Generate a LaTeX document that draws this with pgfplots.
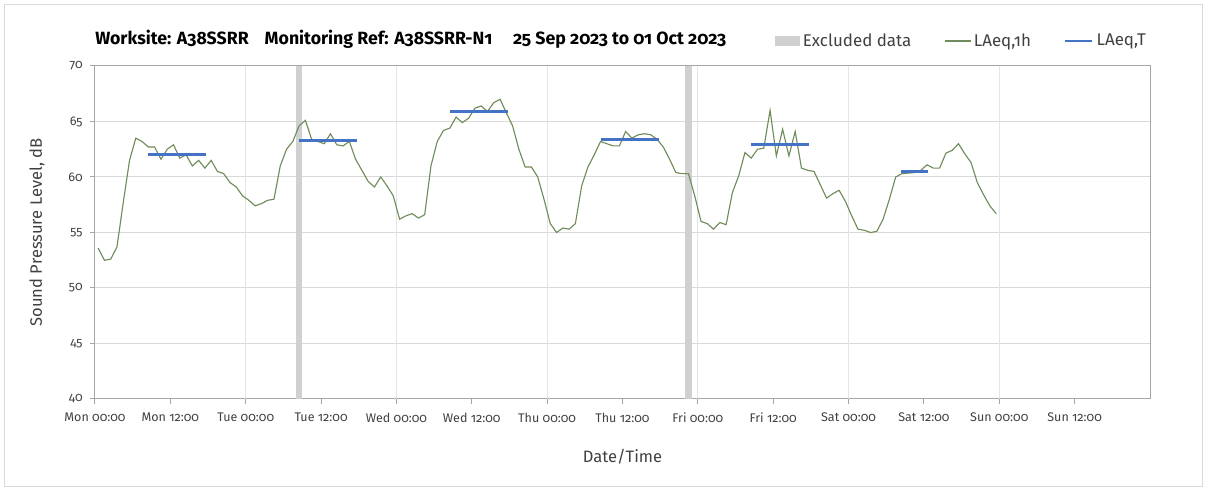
\documentclass[border=0pt]{standalone}
\usepackage{fontspec}
\setmainfont{Fira Sans}[Numbers=OldStyle]
\usepackage{pgfplots}
\usepackage{pgfplotstable}
\pgfplotsset{compat=1.18}

\definecolor{lgreen}{HTML}{6F8C5A}
\definecolor{lblue}{HTML}{4472C4}
\definecolor{exgray}{HTML}{D0D0D0}
\definecolor{gridc}{HTML}{D9D9D9}
\definecolor{vgridc}{HTML}{E4E4E4}
\definecolor{axc}{HTML}{A6A6A6}
\definecolor{txt}{HTML}{404040}

% hourly LAeq,1h, hours from Mon 00:00
\pgfplotstableread{
h spl
0.5 53.6
1.5 52.5
2.5 52.6
3.5 53.7
4.5 57.7
5.5 61.5
6.5 63.5
7.5 63.2
8.5 62.7
9.5 62.7
10.5 61.6
11.5 62.5
12.5 62.9
13.5 61.7
14.5 62.0
15.5 61.0
16.5 61.5
17.5 60.8
18.5 61.5
19.5 60.5
20.5 60.3
21.5 59.5
22.5 59.1
23.5 58.3
24.5 57.9
25.5 57.4
26.5 57.6
27.5 57.9
28.5 58.0
29.5 61.0
30.5 62.5
31.5 63.2
32.5 64.6
33.5 65.1
34.5 63.4
35.5 63.2
36.5 63.0
37.5 63.9
38.5 62.9
39.5 62.8
40.5 63.2
41.5 61.6
42.5 60.6
43.5 59.6
44.5 59.1
45.5 60.0
46.5 59.2
47.5 58.3
48.5 56.2
49.5 56.5
50.5 56.7
51.5 56.3
52.5 56.6
53.5 61.0
54.5 63.2
55.5 64.2
56.5 64.4
57.5 65.4
58.5 64.9
59.5 65.3
60.5 66.2
61.5 66.4
62.5 65.9
63.5 66.7
64.5 67.0
65.5 65.8
66.5 64.6
67.5 62.5
68.5 60.9
69.5 60.9
70.5 60.0
71.5 58.0
72.5 55.8
73.5 55.0
74.5 55.4
75.5 55.3
76.5 55.8
77.5 59.2
78.5 60.9
79.5 62.0
80.5 63.2
81.5 63.0
82.5 62.8
83.5 62.8
84.5 64.1
85.5 63.5
86.5 63.8
87.5 63.9
88.5 63.8
89.5 63.4
90.5 62.7
91.5 61.6
92.5 60.4
93.5 60.3
94.5 60.3
95.5 58.3
96.5 56.0
97.5 55.8
98.5 55.3
99.5 55.9
100.5 55.7
101.5 58.6
102.5 60.1
103.5 62.2
104.5 61.7
105.5 62.5
106.5 62.6
107.5 66.0
108.5 61.9
109.5 64.3
110.5 61.9
111.5 64.1
112.5 60.8
113.5 60.6
114.5 60.5
115.5 59.3
116.5 58.1
117.5 58.5
118.5 58.8
119.5 57.8
120.5 56.5
121.5 55.3
122.5 55.2
123.5 55.0
124.5 55.1
125.5 56.2
126.5 58.0
127.5 60.0
128.5 60.3
129.5 60.35
130.5 60.4
131.5 60.6
132.5 61.1
133.5 60.8
134.5 60.8
135.5 62.15
136.5 62.4
137.5 63.0
138.5 62.1
139.5 61.3
140.5 59.5
141.5 58.4
142.5 57.4
143.5 56.7
}\laeqh

\begin{document}
\begin{tikzpicture}
% 1 px of the reference = 0.75pt, axis corner at px (95,399)
\path[use as bounding box] (-71.25pt,-69.75pt) rectangle (834.75pt,299.25pt);
\draw[gridc, line width=0.75pt] (-67.5pt,-66pt) rectangle (830.25pt,295.5pt);
\begin{axis}[
  at={(0pt,0pt)}, anchor=south west, scale only axis,
  width=791.25pt, height=249.75pt,
  xmin=0, xmax=168, ymin=40, ymax=70,
  axis line style={draw=axc, line width=0.75pt},
  xtick={0,12,...,156},
  xticklabels={Mon 00:00,Mon 12:00,Tue 00:00,Tue 12:00,Wed 00:00,Wed 12:00,Thu 00:00,Thu 12:00,Fri 00:00,Fri 12:00,Sat 00:00,Sat 12:00,Sun 00:00,Sun 12:00},
  ytick={40,45,...,70},
  ymajorgrids, major grid style={draw=gridc, line width=0.75pt},
  extra x ticks={24,48,...,144}, extra x tick labels={},
  extra x tick style={grid=major, major grid style={draw=vgridc, line width=0.75pt}, major tick length=0pt},
  tick align=outside, xtick pos=bottom, ytick pos=left,
  major tick length=3.5pt, tick style={draw=axc, line width=0.75pt},
  /pgf/number format/assume math mode=true,
  xticklabel style={font=\fontsize{9.4}{11}\selectfont, text=txt, yshift=-3.5pt},
  yticklabel style={font=\fontsize{9.4}{11}\selectfont, text=txt, xshift=-2.25pt},
  xlabel={Date/Time}, ylabel={Sound Pressure Level, dB},
  label style={font=\fontsize{12.4}{14}\selectfont, text=txt},
  xlabel style={at={(axis description cs:0.5,-0.174)}, anchor=center},
  ylabel style={at={(axis description cs:-0.055,0.5)}, anchor=center},
  title={Worksite: A38SSRR\hspace{12pt}Monitoring Ref: A38SSRR-N1\hspace{15.5pt}25 Sep 2023 to 01 Oct 2023},
  title style={at={(axis description cs:0,1.040)}, anchor=base west, inner sep=0pt, font=\bfseries\fontsize{13.3}{15}\selectfont},
  legend style={draw=none, fill=none, at={(axis description cs:0.6407,1.075)}, anchor=west,
    legend columns=-1, font=\fontsize{12.7}{15}\selectfont, text=txt,
    /tikz/every even column/.append style={column sep=22.5pt}},
]
\addplot[draw=none, fill=exgray,
  legend image code/.code={\fill[exgray] (0pt,-3.75pt) rectangle (18.75pt,3.75pt);}]
  coordinates {(32,70) (33,70)} \closedcycle;
\addlegendentry{Excluded data}
\addplot[draw=none, fill=exgray, forget plot] coordinates {(94,70) (95,70)} \closedcycle;
\addplot[lgreen, line width=0.85pt,
  legend image code/.code={\draw[lgreen, line width=0.85pt] (0pt,0pt) -- (19.5pt,0pt);}]
  table[x=h, y=spl] {\laeqh};
\addlegendentry{LAeq,1h}
\addplot[lblue, line width=2.2pt, unbounded coords=jump,
  legend image code/.code={\draw[lblue, line width=2.2pt] (0pt,0pt) -- (20.5pt,0pt);}]
  coordinates {(8.5,62.0) (17.75,62.0) (20,nan)
               (32.5,63.3) (41.75,63.3) (44,nan)
               (56.5,65.9) (65.75,65.9) (68,nan)
               (80.5,63.4) (89.75,63.4) (92,nan)
               (104.5,62.9) (113.75,62.9) (116,nan)
               (128.4,60.5) (132.7,60.5)};
\addlegendentry{LAeq,T}
\end{axis}
\end{tikzpicture}
\end{document}
